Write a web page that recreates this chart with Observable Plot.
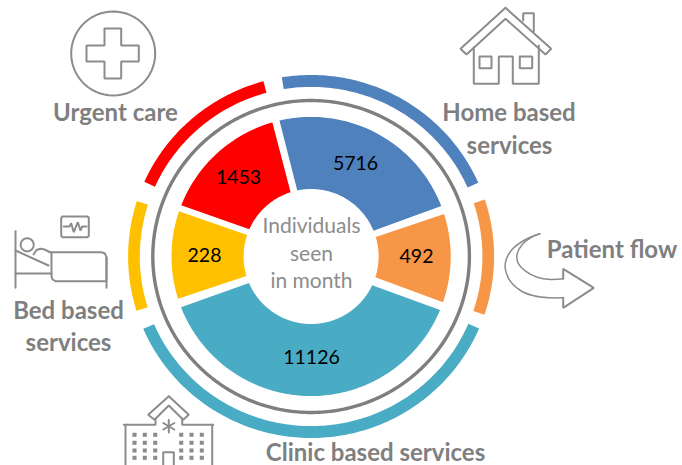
<!DOCTYPE html>
<html>
<head>
<meta charset="utf-8">
<script src="https://cdn.jsdelivr.net/npm/d3@7"></script>
<script src="https://cdn.jsdelivr.net/npm/@observablehq/plot@0.6"></script>
<style>
html,body{margin:0;padding:0;background:#fff;}
svg{display:block;}
</style>
</head>
<body>
<div id="chart"></div>
<script>
// Data
const services = ["Home based", "Patient flow", "Clinic based", "Bed based", "Urgent care"];
const individuals = [5716, 492, 11126, 228, 1453];
const colours = ["#4f81bd", "#f79646", "#4aabc5", "#ffc000", "#ff0000"];
// Slice edges in degrees clockwise from the top (the gaps between slices have parallel sides)
const outerFrom = [-13.1, 72.3, 112.5, 252.4, 291.5];
const outerTo   = [68.8, 109.1, 248.7, 288.9, 343.9];
const innerFrom = [-11.8, 73.3, 115.2, 253.3, 293.7];
const innerTo   = [67.5, 107.9, 246.8, 288.5, 342.3];
// Outer band edges
const bandFrom = [-9.2, 71.7, 113.4, 252.6, 294.3];
const bandTo   = [66, 108.7, 246.5, 287.8, 344.9];
// Labels
const valueX = [355, 416, 311, 204, 238];
const valueY = [163, 256, 357, 255, 177];
const groupLabels = [
  {t: "Urgent care", x: 115, y: 113},
  {t: "Home based", x: 508.5, y: 113},
  {t: "services", x: 509, y: 146},
  {t: "Bed based", x: 68, y: 311},
  {t: "services", x: 68, y: 343},
  {t: "Patient flow", x: 611.5, y: 250},
  {t: "Clinic based services", x: 375, y: 453}
];
const centreLabels = [
  {t: "Individuals", x: 311, y: 226},
  {t: "seen", x: 311, y: 254},
  {t: "in month", x: 311, y: 281}
];

// Icon outlines
const icons = {
  cross: [[104,28],[120.7,28],[120.7,45],[138.3,45],[138.3,61],[120.7,61],[120.7,78],[104,78],[104,61],[86,61],[86,45],[104,45],[104,28]],
  roof: [[505,7.3],[550.7,48.3],[545,54],[505,18.3],[466,54],[460,48.3],[505,7.3]],
  chimney: [[522.7,20],[522.7,12.7],[533.3,12.7],[533.3,30.7]],
  body: [[473.3,46.7],[473.3,83.3],[498.3,83.3],[498.3,56],[512.3,56],[512.3,83.3],[538.3,83.3],[538.3,45]],
  win1: [[479,56],[491,56],[491,67.7],[479,67.7],[479,56]],
  win2: [[519.3,56],[531.7,56],[531.7,67.7],[519.3,67.7],[519.3,56]],
  headboard: [[15,230.7],[15,287.3]],
  footpost: [[106,257],[106,287.3]],
  mattress: [[50,251.7],[101,251.7],[104.5,253],[106,257],[106,280.7],[55,280.7],[52,279],[51,276],[51,252]],
  rail: [[15,273],[51,273]],
  back: [[15,250],[48,265]],
  torso: [[33,254],[36,249.5],[40,248.3],[44,249],[50,252]],
  monitor: [[62,216],[87,216],[88.3,217.3],[88.3,235.4],[87,236.7],[62,236.7],[60.7,235.4],[60.7,217.3],[62,216]],
  ecg: [[63.3,226],[69,226],[70.7,222.7],[73.3,231.7],[77.3,221.7],[80,230],[81.7,226],[86,226]],
  hroof: [[168.3,395.7],[188.3,414.3],[182.7,419.3],[168.3,405],[154,419.3],[147.7,414.3],[168.3,395.7]],
  hl: [[155,418],[155,424.3],[123.3,424.3]],
  hr: [[181.7,418],[181.7,424.3],[212.7,424.3]],
  wl: [[125,424.3],[125,465]],
  wr: [[211.7,424.3],[211.7,465]],
  door: [[162.7,465],[162.7,451.7],[173.3,451.7],[173.3,465]],
  s1: [[168.3,419.5],[168.3,432]],
  s2: [[162.8,422.5],[173.8,429]],
  s3: [[162.8,429],[173.8,422.5]],
  arrowHead: [[562.7,297.3],[562.7,307.3],[593.3,287.3],[562.7,268.3],[562.7,278.3]]
};
const arrowOuter = [[539.3,233.3],[523.3,240],[510.7,250],[504.7,263.3],[508.3,278.3],[520,290],[533.3,295.3],[548.3,297.3],[562.7,297.3]];
const arrowInner = [[539.3,233.3],[530,237.3],[521.7,244],[516.7,253.3],[517.3,261.7],[525,270.7],[536.7,276.7],[550,279],[562.7,278.3]];
const windowX = [134, 144.3, 154.7, 180.7, 191, 201.3];
const windowY = [434.3, 442.3, 450, 457.3];

// Geometry helpers
const cx = 310.6, cy = 256;
const pt = (a, rx, ry = rx) => {
  const t = a * Math.PI / 180;
  return {x: cx + rx * Math.sin(t), y: cy - ry * Math.cos(t)};
};
const arc = (a0, a1, rx, ry = rx) => {
  const n = Math.max(2, Math.ceil(Math.abs(a1 - a0)));
  return d3.range(n + 1).map(i => pt(a0 + (a1 - a0) * i / n, rx, ry));
};
const slices = services.flatMap((s, i) =>
  [...arc(outerFrom[i], outerTo[i], 139.6), ...arc(innerTo[i], innerFrom[i], 67.5)].map(p => ({...p, s})));
const bands = services.flatMap((s, i) =>
  [...arc(bandFrom[i], bandTo[i], 183, 181.5), ...arc(bandTo[i], bandFrom[i], 171.3, 169.6)].map(p => ({...p, s})));
const ring = arc(0, 360, 158.3, 156);
const circlePts = (x0, y0, r) => d3.range(0, 361, 6).map(a => ({
  x: x0 + r * Math.sin(a * Math.PI / 180),
  y: y0 - r * Math.cos(a * Math.PI / 180)
}));
const iconLines = Object.entries(icons).flatMap(([k, pts]) => pts.map(([x, y]) => ({k, x, y})));
const windows = windowX.flatMap(x => windowY.map(y => ({x, y})));
const grey = "#7f7f7f";
const font = "Lato, Carlito, sans-serif";

const chart = Plot.plot({
  width: 682,
  height: 465,
  margin: 0,
  x: {domain: [0, 682], axis: null},
  y: {domain: [465, 0], axis: null},
  color: {domain: services, range: colours},
  style: {background: "#fff", fontFamily: font},
  marks: [
    Plot.line(slices, {x: "x", y: "y", z: "s", fill: "s", stroke: "none"}),
    Plot.line(bands, {x: "x", y: "y", z: "s", fill: "s", stroke: "none"}),
    Plot.line(ring, {x: "x", y: "y", stroke: "#7f7f7f", strokeWidth: 3.4}),
    Plot.line(iconLines, {x: "x", y: "y", z: "k", stroke: "#8c8c8c", strokeWidth: 2, strokeLinejoin: "miter"}),
    Plot.line(circlePts(112.7, 53, 42), {x: "x", y: "y", stroke: "#8c8c8c", strokeWidth: 2}),
    Plot.line(circlePts(26.7, 244.3, 6.5), {x: "x", y: "y", stroke: "#8c8c8c", strokeWidth: 2}),
    Plot.line(arrowOuter.map(([x, y]) => ({x, y})), {x: "x", y: "y", stroke: "#8c8c8c", strokeWidth: 1.5, curve: "catmull-rom"}),
    Plot.line(arrowInner.map(([x, y]) => ({x, y})), {x: "x", y: "y", stroke: "#8c8c8c", strokeWidth: 1.5, curve: "catmull-rom"}),
    Plot.dot(windows, {x: "x", y: "y", symbol: "square", r: 2.3, fill: "#8c8c8c", stroke: "none"}),
    Plot.text(services, {
      x: (d, i) => valueX[i], y: (d, i) => valueY[i], text: (d, i) => String(individuals[i]),
      fontSize: 19.5, fill: "#000", fontFamily: font
    }),
    Plot.text(centreLabels, {x: "x", y: "y", text: "t", fontSize: 21, fill: "#8c8c8c", fontFamily: font}),
    Plot.text(groupLabels, {x: "x", y: "y", text: "t", fontSize: 24, fontWeight: "bold", fill: grey, fontFamily: font})
  ]
});
document.getElementById("chart").append(chart);
</script>
</body>
</html>
